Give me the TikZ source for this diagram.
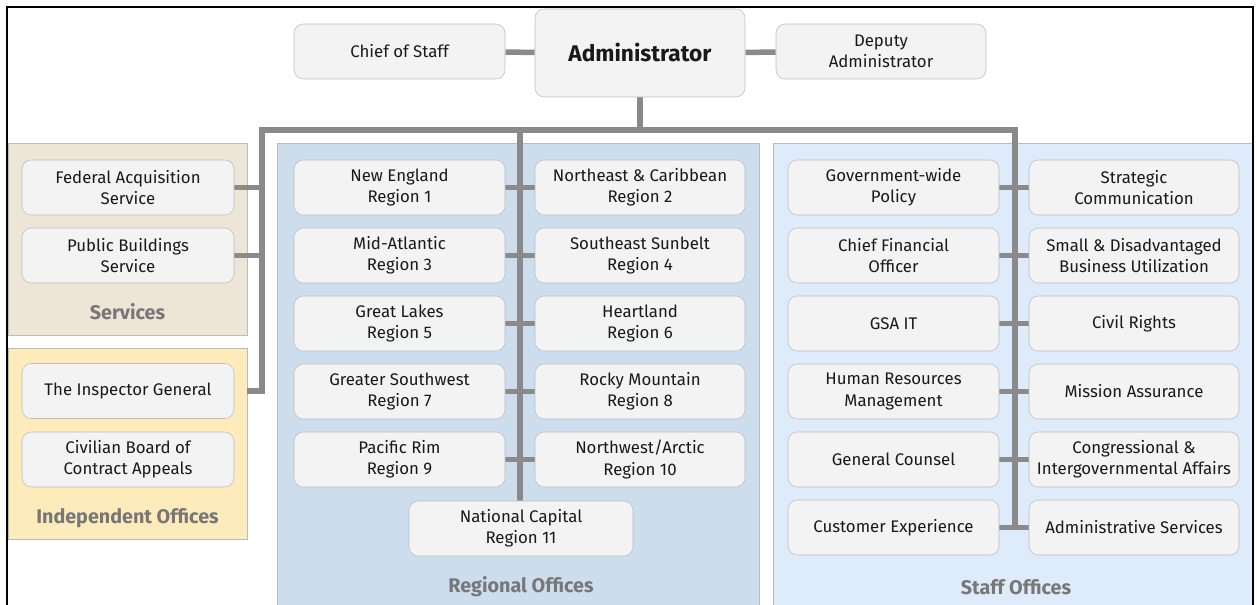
\documentclass[tikz,border=0pt]{standalone}
\usepackage{fontspec}
\setmainfont{Fira Sans}
\usetikzlibrary{positioning}

\definecolor{boxfill}{HTML}{F3F3F3}
\definecolor{boxline}{HTML}{BDBDBD}
\definecolor{linkgray}{HTML}{8A8A8A}
\definecolor{svcfill}{HTML}{EDE5D5}
\definecolor{indfill}{HTML}{FDEBBB}
\definecolor{regfill}{HTML}{CCDDED}
\definecolor{stffill}{HTML}{DDEBFA}
\definecolor{panelline}{HTML}{BBBBBB}
\definecolor{labelgray}{HTML}{777777}

\def\px{0.75pt}
\pgfdeclarelayer{panels}
\pgfdeclarelayer{links}
\pgfsetlayers{panels,links,main}

\begin{document}
\begin{tikzpicture}[x=\px,y=-\px]
    \tikzstyle{box}=[rectangle,rounded corners=7pt,draw=boxline,fill=boxfill,
        minimum width=211*\px,minimum height=55*\px,inner sep=0pt,align=center,
        text=black!90,font=\fontsize{12.6}{16}\selectfont]
    \tikzstyle{panel}=[rectangle,draw=panelline,inner sep=0pt]
    \tikzstyle{annot}=[text=labelgray,font=\fontsize{14.8}{17}\selectfont\bfseries]
    \tikzstyle{link}=[draw=linkgray,line width=5.5*\px]

    \useasboundingbox (0,0) rectangle (1257,605);

    % Top of the chart.
    \node[box,minimum width=210*\px,minimum height=88*\px,
        font=\fontsize{17}{20}\selectfont\bfseries] (admin) at (640,53) {Administrator};
    \node[box] (chief) at (399.5,51.5) {Chief of Staff};
    \node[box,minimum width=210*\px] (deputy) at (881,51.5) {Deputy\\Administrator};

    % Draw the panels.
    \begin{pgfonlayer}{panels}
        \node[panel,fill=svcfill,minimum width=239*\px,minimum height=192*\px] (svc) at (127.5,239) {};
        \node[panel,fill=indfill,minimum width=239*\px,minimum height=191*\px] (ind) at (127.5,443.5) {};
        \node[panel,fill=regfill,minimum width=482*\px,minimum height=480*\px] (reg) at (518,383) {};
        \node[panel,fill=stffill,minimum width=480*\px,minimum height=480*\px] (stf) at (1013,383) {};
    \end{pgfonlayer}

    % Annotate the panels.
    \node[annot] (svc-l) at (127.5,312) {Services};
    \node[annot] (ind-l) at (127.5,518) {Independent Offices};
    \node[annot] (reg-l) at (521,587) {Regional Offices};
    \node[annot] (stf-l) at (1016,587) {Staff Offices};

    % Services and independent offices.
    \node[box,minimum width=212*\px] (fas) at (128,187.5) {Federal Acquisition\\Service};
    \node[box,minimum width=212*\px] (pbs) at (128,255.5) {Public Buildings\\Service};
    \node[box,minimum width=212*\px] (ig) at (128,391) {The Inspector General};
    \node[box,minimum width=212*\px] (cbca) at (128,459.5) {Civilian Board of\\Contract Appeals};

    % Draw the regional offices.
    \foreach \i/\lname/\rname in {1/{New England}/{Northeast \& Caribbean},
            2/{Mid-Atlantic}/{Southeast Sunbelt},
            3/{Great Lakes}/{Heartland},
            4/{Greater Southwest}/{Rocky Mountain},
            5/{Pacific Rim}/{Northwest/Arctic}} {
        \pgfmathtruncatemacro\ln{2*\i-1}
        \pgfmathtruncatemacro\rn{2*\i}
        \node[box] (R-\i-L) at (399.5,119.5+68*\i) {\lname\\Region \ln};
        \node[box,minimum width=210*\px] (R-\i-R) at (640,119.5+68*\i) {\rname\\Region \rn};
    }
    \node[box,minimum width=224*\px] (ncr) at (521,528.5) {National Capital\\Region 11};

    % Draw the staff offices.
    \foreach \i/\lname/\rname in {1/{Government-wide\\Policy}/{Strategic\\Communication},
            2/{Chief Financial\\Officer}/{Small \& Disadvantaged\\Business Utilization},
            3/{GSA IT}/{Civil Rights},
            4/{Human Resources\\Management}/{Mission Assurance},
            5/{General Counsel}/{Congressional \&\\Intergovernmental Affairs},
            6/{Customer Experience}/{Administrative Services}} {
        \node[box] (S-\i-L) at (893.5,119.5+68*\i) {\lname};
        \node[box,minimum width=210*\px] (S-\i-R) at (1134,119.5+68*\i) {\rname};
    }

    % Connect everything.
    \coordinate (busL) at (262,130);
    \coordinate (busM) at (520,130);
    \coordinate (busR) at (1015,130);
    \begin{pgfonlayer}{links}
        \draw[link] (chief) -- (admin);
        \draw[link] (admin) -- (deputy);
        \draw[link] (admin.south) -- (admin.south |- busM);
        \draw[link] (ind.east |- ig) -- (busL |- ig) -- (busL) -- (busR) -- (busR |- S-6-L);
        \draw[link] (busM) -- (busM |- ncr.north);
        \foreach \name in {fas,pbs}
            \draw[link] (\name.east) -- (busL |- \name);
        \foreach \i in {1,...,5}
            \draw[link] (R-\i-L.east) -- (R-\i-R.west);
        \foreach \i in {1,...,6}
            \draw[link] (S-\i-L.east) -- (S-\i-R.west);
    \end{pgfonlayer}

    % Outer frame.
    \draw[line width=1.5*\px] (7,610) -- (7,7) -- (1253,7) -- (1253,610);
\end{tikzpicture}
\end{document}
